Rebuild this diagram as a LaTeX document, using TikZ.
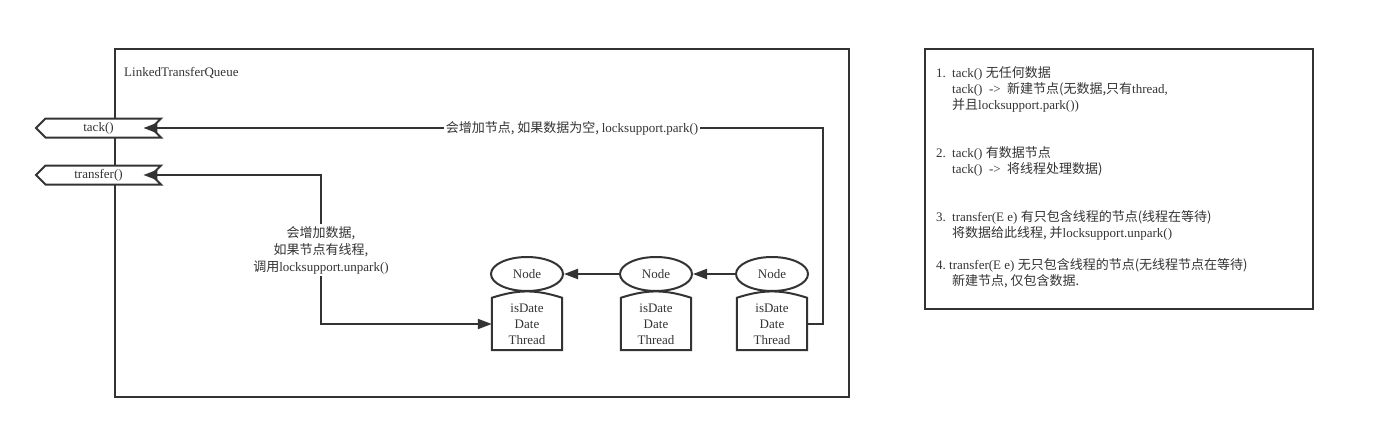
\documentclass[tikz,border=0pt]{standalone}
\usepackage{fontspec}
\setmainfont{Liberation Serif}
\newfontfamily\zh{Noto Sans CJK SC}
\usetikzlibrary{shapes.symbols,shapes.geometric,arrows.meta}
\definecolor{ink}{HTML}{333333}
\begin{document}
\begin{tikzpicture}
            [x=1pt,y=-1pt,
             every node/.style={text=ink,inner sep=0pt,font=\fontsize{13}{16}\selectfont},
             line/.style={draw=ink,line width=2pt},
             >={Triangle[length=14pt,width=10pt]},
             tag/.style={line,fill=white,signal,signal to=west,signal from=east,signal pointer angle=90,minimum width=125pt,minimum height=19pt},
             elem/.style={line,ellipse,minimum width=72pt,minimum height=34pt},
             fields/.style={minimum width=70pt,minimum height=52pt,align=center},
             frame/.style={line,rectangle},
             lbl/.style={fill=white,inner sep=2pt,align=center,font=\fontsize{13}{17}\selectfont},
             note/.style={anchor=west,align=left}]
            \useasboundingbox (0,0) rectangle (1377,436);
            \node[frame,minimum width=734pt,minimum height=348pt] (queue) at (482,223) {};
            \node[anchor=west] (title) at (124,73) {LinkedTransferQueue};
            \node[tag] (tack) at (98.5,128) {tack()};
            \node[tag] (transfer) at (98.5,175) {transfer()};
            \foreach \i/\x in {1/527,2/656,3/772} {
                \node[elem] (n\i) at (\x,274) {Node};
                \node[fields] (d\i) at (\x,324) {isDate\\Date\\Thread};
                \draw[line] (d\i.north west) to [bend left=18] (d\i.north east) -- (d\i.south east) -- (d\i.south west) -- cycle;
            }
            \coordinate (turn) at (321,250);
            \draw[line,->] (n2) to (n1);
            \draw[line,->] (n3) to (n2);
            \draw[line,->] (d3.east) -- ++(16,0) |- ([xshift=-9.5pt]tack.east);
            \draw[line,<->] ([xshift=-9.5pt]transfer.east) -| (turn) |- (d1.west);
            \node[lbl] (parknote) at (572,128) {{\zh 会增加节点, 如果数据为空, }locksupport.park()};
            \node[lbl] (unparknote) at (turn) {{\zh 会增加数据,}\\{\zh 如果节点有线程,}\\{\zh 调用}locksupport.unpark()};
            % notes on the right
            \node[frame,minimum width=388pt,minimum height=260pt] (notes) at (1119,179) {};
            \node[note] (item1) at (936,89) {\makebox[16pt][l]{1.}tack() {\zh 无任何数据}\\
                \hspace*{16pt}tack()\ \ ->\ \ {\zh 新建节点(无数据,只有}thread,\\
                \hspace*{16pt}{\zh 并且}locksupport.park())};
            \node[note] (item2) at (936,161.3) {\makebox[16pt][l]{2.}tack() {\zh 有数据节点}\\
                \hspace*{16pt}tack()\ \ ->\ \ {\zh 将线程处理数据)}};
            \node[note] (item3) at (936,225.3) {\makebox[16pt][l]{3.}transfer(E e) {\zh 有只包含线程的节点(线程在等待)}\\
                \hspace*{16pt}{\zh 将数据给此线程, 并}locksupport.unpark()};
            \node[note] (item4) at (936,273.3) {\makebox[13pt][l]{4.}transfer(E e) {\zh 无只包含线程的节点(无线程节点在等待)}\\
                \hspace*{16pt}{\zh 新建节点, 仅包含数据.}};
        \end{tikzpicture}
\end{document}
